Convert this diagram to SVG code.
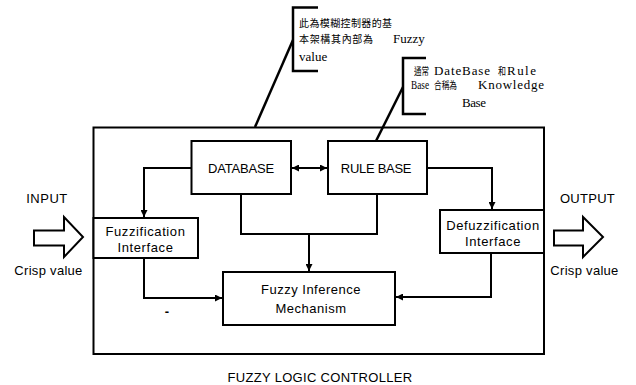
<svg xmlns="http://www.w3.org/2000/svg" width="636" height="385" viewBox="0 0 636 385">
  <style>
    .box { fill: #fff; stroke: #000; stroke-width: 2; }
    .frame { fill: none; stroke: #000; stroke-width: 2; }
    .wire { fill: none; stroke: #000; stroke-width: 2; }
    .lead { fill: none; stroke: #000; stroke-width: 2.5; }
    .sans { font-family: "Liberation Sans", Arial, sans-serif; font-size: 13px; fill: #000; }
    .note { font-family: "Liberation Serif", "Noto Sans CJK TC", serif; font-size: 13px; fill: #000; }
    .cjk { font-family: "Noto Sans CJK TC", sans-serif; font-size: 10px; fill: #000; }
    .big { fill: #fff; stroke: #000; stroke-width: 2; }
  </style>
  <defs>
    <marker id="head" viewBox="0 0 8 8" refX="8" refY="4" markerWidth="7" markerHeight="7" markerUnits="userSpaceOnUse" orient="auto-start-reverse">
      <path d="M0,0 L8,4 L0,8 Z" fill="#000"/>
    </marker>
  </defs>

  <!-- controller frame -->
  <rect class="frame" x="93.5" y="127.5" width="450.5" height="226.5"/>

  <!-- connectors -->
  <g id="connectors">
    <path class="wire" d="M191.5,168 H144 V217" marker-end="url(#head)"/>
    <path class="wire" d="M292,168 H327" marker-start="url(#head)" marker-end="url(#head)"/>
    <path class="wire" d="M427,168 H492 V209" marker-end="url(#head)"/>
    <path class="wire" d="M241,194 V234 H377 V194"/>
    <path class="wire" d="M309,234 V271" marker-end="url(#head)"/>
    <path class="wire" d="M144,258 V298 H222" marker-end="url(#head)"/>
    <path class="wire" d="M491,253 V297 H396" marker-end="url(#head)"/>
  </g>

  <!-- callout leaders -->
  <path class="lead" d="M255,127 L293,40"/>
  <path class="lead" d="M376,141 L403,87"/>

  <g id="database">
    <rect class="box" x="191.5" y="141" width="99.5" height="53"/>
    <text class="sans" x="241" y="173" text-anchor="middle" letter-spacing="-0.2">DATABASE</text>
  </g>
  <g id="rulebase">
    <rect class="box" x="328" y="141" width="99" height="53"/>
    <text class="sans" x="376" y="173" text-anchor="middle" letter-spacing="-0.3">RULE BASE</text>
  </g>
  <g id="fuzzification">
    <rect class="box" x="93.5" y="218" width="104.5" height="40"/>
    <text class="sans" x="145.5" y="235.5" text-anchor="middle" font-size="12.5" letter-spacing="0.6">Fuzzification</text>
    <text class="sans" x="145.5" y="251.5" text-anchor="middle" font-size="12.5" letter-spacing="0.6">Interface</text>
  </g>
  <g id="defuzzification">
    <rect class="box" x="440" y="210" width="104" height="43"/>
    <text class="sans" x="493" y="229.5" text-anchor="middle" font-size="12.5" letter-spacing="0.6">Defuzzification</text>
    <text class="sans" x="493" y="245.5" text-anchor="middle" font-size="12.5" letter-spacing="0.6">Interface</text>
  </g>
  <g id="inference">
    <rect class="box" x="223" y="272" width="172" height="53"/>
    <text class="sans" x="311" y="293.5" text-anchor="middle" letter-spacing="0.5">Fuzzy Inference</text>
    <text class="sans" x="311" y="312.5" text-anchor="middle" letter-spacing="0.5">Mechanism</text>
  </g>

  <!-- input side -->
  <g id="input">
    <text class="sans" x="47" y="202.5" text-anchor="middle" font-size="12" letter-spacing="0.5">INPUT</text>
    <path class="big" d="M34,230.5 H64 V217 L83,237 L64,257 V245.5 H34 Z"/>
    <text class="sans" x="48.5" y="274.5" text-anchor="middle" letter-spacing="0.3">Crisp value</text>
  </g>

  <!-- output side -->
  <g id="output">
    <text class="sans" x="587.5" y="202.5" text-anchor="middle" letter-spacing="0.3">OUTPUT</text>
    <path class="big" d="M554,230.5 H583 V217 L603,237 L583,257 V245.5 H554 Z"/>
    <text class="sans" x="584.5" y="274.5" text-anchor="middle" letter-spacing="0.3">Crisp value</text>
  </g>

  <text class="sans" x="167" y="316" text-anchor="middle" font-weight="bold">-</text>

  <text class="sans" x="320" y="382" text-anchor="middle" letter-spacing="0.3">FUZZY LOGIC CONTROLLER</text>

  <!-- note on the controller -->
  <g id="note-controller">
    <path class="lead" d="M318,7.5 H293 V71 H318"/>
    <text class="cjk" x="299" y="27" textLength="93">此為模糊控制器的基</text>
    <text class="cjk" x="299" y="43" textLength="74">本架構其內部為</text>
    <text class="note" x="393" y="43">Fuzzy</text>
    <text class="note" x="299" y="61">value</text>
  </g>

  <!-- note on the knowledge base -->
  <g id="note-knowledge">
    <path class="lead" d="M426,58 H403 V114 H426"/>
    <text class="cjk" x="414" y="75" textLength="15" lengthAdjust="spacingAndGlyphs">通常</text>
    <text class="note" x="434" y="75" textLength="56">DateBase</text>
    <text class="cjk" x="498" y="75" textLength="8" lengthAdjust="spacingAndGlyphs">和</text>
    <text class="note" x="507" y="75" textLength="29">Rule</text>
    <text class="note" x="411" y="89" font-size="11" textLength="18" lengthAdjust="spacingAndGlyphs">Base</text>
    <text class="cjk" x="434" y="89" textLength="23" lengthAdjust="spacingAndGlyphs">合稱為</text>
    <text class="note" x="478" y="89" textLength="66">Knowledge</text>
    <text class="note" x="462" y="107" textLength="24">Base</text>
  </g>
</svg>
